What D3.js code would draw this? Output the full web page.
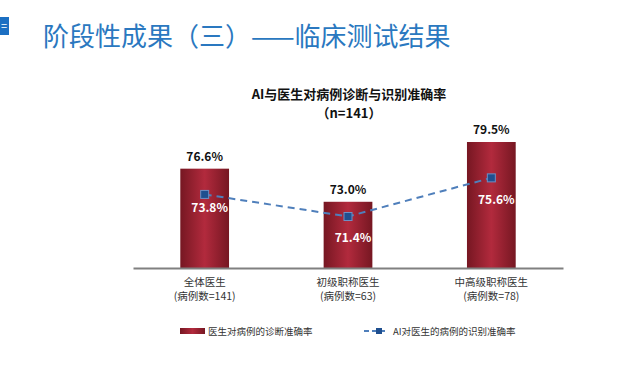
<!DOCTYPE html>
<html>
<head>
  <meta charset="utf-8">
  <title>临床测试结果</title>
  <script src="https://d3js.org/d3.v7.min.js"></script>
  <style>
    body { margin: 0; background: #fff; font-family: "Noto Sans CJK SC", "Noto Sans", sans-serif; }
  </style>
</head>
<body>
  <svg width="640" height="371"></svg>

  <script>
    const categories = ["全体医生", "初级职称医生", "中高级职称医生"];
    const subLabels = ["(病例数=141)", "(病例数=63)", "(病例数=78)"];
    const doctorRate = [76.6, 73.0, 79.5];
    const aiRate = [73.8, 71.4, 75.6];
    const legendNames = ["医生对病例的诊断准确率", "AI对医生的病例的识别准确率"];

    const svg = d3.select("svg");
    const font = "'Noto Sans CJK SC', 'Noto Sans', sans-serif";

    // gradient for the bars
    const defs = svg.append("defs");
    const grad = defs.append("linearGradient").attr("id", "barGrad")
      .attr("x1", "0%").attr("x2", "100%").attr("y1", "0%").attr("y2", "0%");
    grad.append("stop").attr("offset", "0%").attr("stop-color", "#761722");
    grad.append("stop").attr("offset", "50%").attr("stop-color", "#b22a3d");
    grad.append("stop").attr("offset", "100%").attr("stop-color", "#761722");

    // slide header
    svg.append("rect").attr("x", 0).attr("y", 17).attr("width", 9).attr("height", 18)
      .attr("fill", "#1c6fc2");
    svg.append("text").attr("x", 1).attr("y", 30).attr("fill", "#fff")
      .attr("font-size", 11).attr("font-family", font).text("=");
    svg.append("text").attr("x", 43).attr("y", 46)
      .attr("fill", "#2a78c0").attr("font-size", 26).attr("font-family", font)
      .text("阶段性成果（三）——临床测试结果");

    // chart title
    svg.append("text").attr("x", 349).attr("y", 99).attr("text-anchor", "middle")
      .attr("font-size", 13).attr("font-weight", "bold").attr("font-family", font)
      .attr("fill", "#111").text("AI与医生对病例诊断与识别准确率");
    svg.append("text").attr("x", 349).attr("y", 118).attr("text-anchor", "middle")
      .attr("font-size", 13).attr("font-weight", "bold").attr("font-family", font)
      .attr("fill", "#111").text("（n=141）");

    const x = d3.scaleBand().domain(categories).range([133, 563])
      .paddingInner(0.66).paddingOuter(0.33);
    const y = d3.scaleLinear().domain([65.8, 79.5]).range([268, 142]);

    // bars
    svg.selectAll(".bar").data(categories).enter().append("rect")
      .attr("class", "bar")
      .attr("x", d => x(d))
      .attr("y", (d, i) => y(doctorRate[i]))
      .attr("width", x.bandwidth())
      .attr("height", (d, i) => y.range()[0] - y(doctorRate[i]))
      .attr("fill", "url(#barGrad)");

    // axis line
    const xAxis = svg.append("g").attr("transform", "translate(0,268)")
      .call(d3.axisBottom(x).tickSize(0).tickFormat(""));
    xAxis.select(".domain").attr("stroke", "#808080").attr("stroke-width", 2);

    // bar value labels
    svg.selectAll(".barLabel").data(categories).enter().append("text")
      .attr("x", d => x(d) + x.bandwidth() / 2)
      .attr("y", (d, i) => y(doctorRate[i]) - 8)
      .attr("text-anchor", "middle").attr("font-size", 12).attr("font-weight", "bold")
      .attr("font-family", font).attr("fill", "#111")
      .text((d, i) => doctorRate[i].toFixed(1) + "%");

    // category labels
    const cat = svg.selectAll(".cat").data(categories).enter().append("g")
      .attr("transform", d => `translate(${x(d) + x.bandwidth() / 2},0)`);
    cat.append("text").attr("y", 286).attr("text-anchor", "middle")
      .attr("font-size", 10.5).attr("font-family", font).attr("fill", "#333")
      .text(d => d);
    cat.append("text").attr("y", 300).attr("text-anchor", "middle")
      .attr("font-size", 10.5).attr("font-family", font).attr("fill", "#333")
      .text((d, i) => subLabels[i]);

    // AI line
    const line = d3.line()
      .x(d => x(d) + x.bandwidth() / 2)
      .y((d, i) => y(aiRate[i]));
    svg.append("path").datum(categories).attr("d", line)
      .attr("fill", "none").attr("stroke", "#4f7fbb").attr("stroke-width", 2)
      .attr("stroke-dasharray", "7,5");
    svg.selectAll(".pt").data(categories).enter().append("rect")
      .attr("x", d => x(d) + x.bandwidth() / 2 - 4)
      .attr("y", (d, i) => y(aiRate[i]) - 4)
      .attr("width", 8).attr("height", 8)
      .attr("fill", "#1f4f8f").attr("stroke", "#6d8fc4").attr("stroke-width", 1);
    svg.selectAll(".aiLabel").data(categories).enter().append("text")
      .attr("x", d => x(d) + x.bandwidth() / 2 + 5)
      .attr("y", (d, i) => y(aiRate[i]) + (i === 0 ? 18 : 26))
      .attr("text-anchor", "middle").attr("font-size", 12).attr("font-weight", "bold")
      .attr("font-family", font).attr("fill", "#fff")
      .text((d, i) => aiRate[i].toFixed(1) + "%");

    // legend
    const lg = svg.append("g").attr("font-family", font).attr("font-size", 9.5).attr("fill", "#333");
    lg.append("rect").attr("x", 180).attr("y", 328).attr("width", 25).attr("height", 6)
      .attr("fill", "url(#barGrad)");
    lg.append("text").attr("x", 208).attr("y", 334.5).text(legendNames[0]);
    lg.append("line").attr("x1", 364).attr("x2", 386).attr("y1", 331).attr("y2", 331)
      .attr("stroke", "#4f7fbb").attr("stroke-width", 2).attr("stroke-dasharray", "5,3");
    lg.append("rect").attr("x", 376).attr("y", 328).attr("width", 6).attr("height", 6)
      .attr("fill", "#1f4f8f");
    lg.append("text").attr("x", 393).attr("y", 334.5).text(legendNames[1]);
  </script>
</body>
</html>
